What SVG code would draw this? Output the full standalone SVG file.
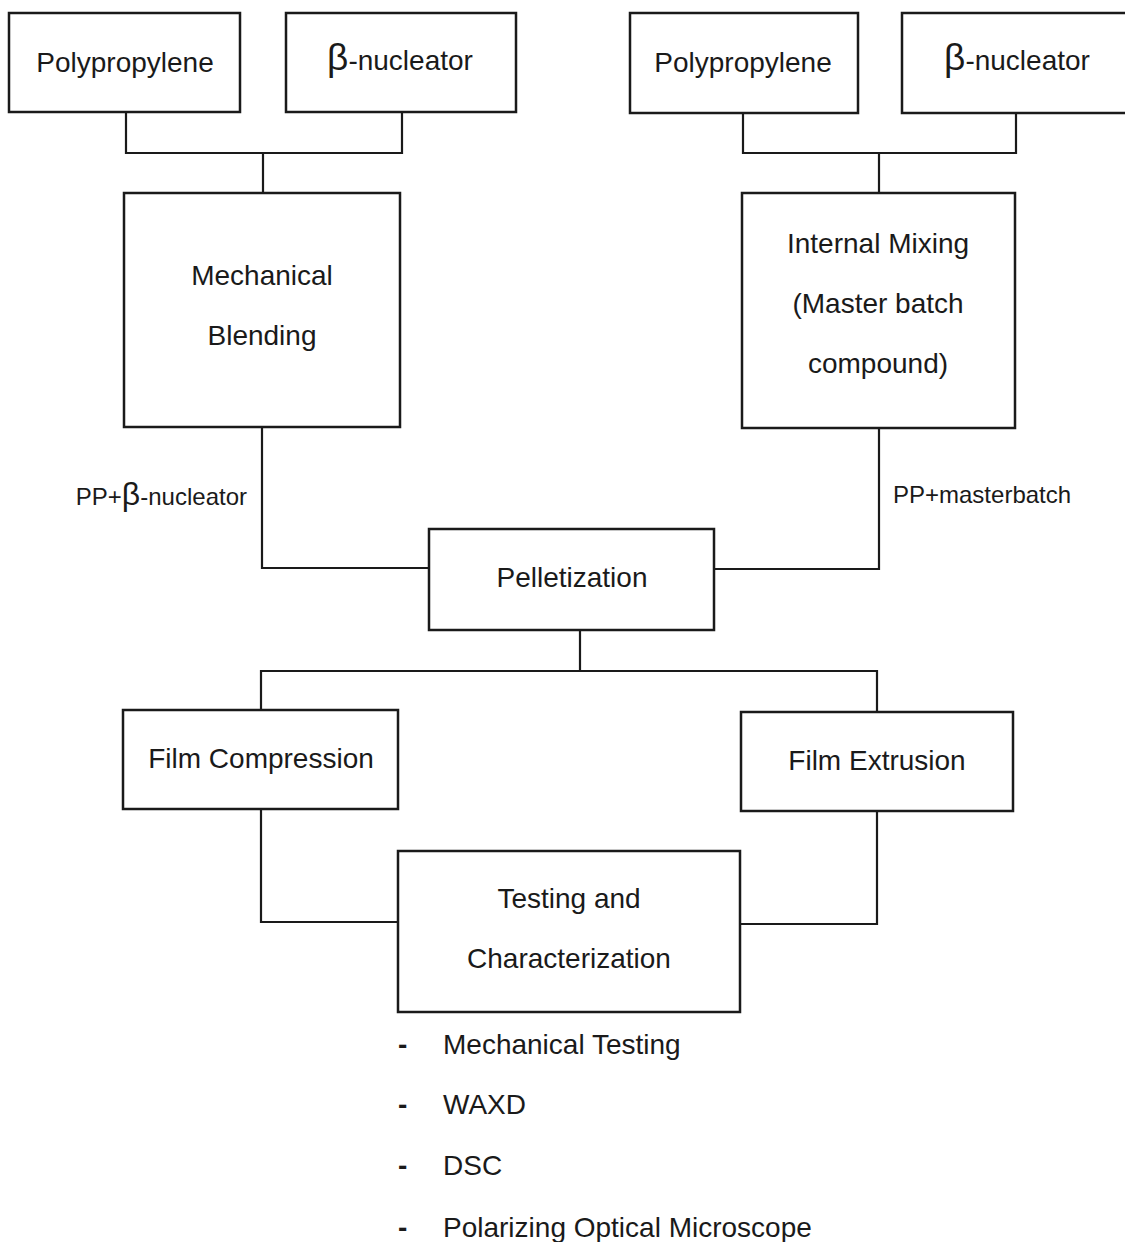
<svg xmlns="http://www.w3.org/2000/svg" width="1125" height="1242" viewBox="0 0 1125 1242">
<style>
.box{fill:#fff;stroke:#1a1a1a;stroke-width:2.5}
.ln{fill:none;stroke:#1a1a1a;stroke-width:2.2}
text{font-family:"Liberation Sans",Arial,sans-serif;fill:#1a1a1a;font-size:28px}
.c{text-anchor:middle}
.lbl{font-size:24px}
.beta{font-size:37px}
.betas{font-size:32px}
.dash{font-weight:bold}
</style>
<rect width="1125" height="1242" fill="#fff"/>
<g id="connectors">
<path class="ln" d="M126 112 V153 H402 V112 M263 153 V193"/>
<path class="ln" d="M743 113 V153 H1016 V113 M879 153 V193"/>
<path class="ln" d="M262 427 V568 H429"/>
<path class="ln" d="M879 428 V569 H714"/>
<path class="ln" d="M580 630 V671 M261 711 V671 H877 V712"/>
<path class="ln" d="M261 809 V922 H398"/>
<path class="ln" d="M877 811 V924 H740"/>
</g>
<g id="pp-left"><rect class="box" x="9" y="13" width="231" height="99"/><text class="c" x="125" y="72">Polypropylene</text></g>
<g id="beta-left"><rect class="box" x="286" y="13" width="230" height="99"/><text class="c" x="400" y="70"><tspan class="beta">β</tspan>-nucleator</text></g>
<g id="pp-right"><rect class="box" x="630" y="13" width="228" height="100"/><text class="c" x="743" y="72">Polypropylene</text></g>
<g id="beta-right"><rect class="box" x="902" y="13" width="228" height="100"/><text class="c" x="1017" y="70"><tspan class="beta">β</tspan>-nucleator</text></g>
<g id="mech-blend"><rect class="box" x="124" y="193" width="276" height="234"/><text class="c" x="262" y="285">Mechanical</text><text class="c" x="262" y="345">Blending</text></g>
<g id="internal-mix"><rect class="box" x="742" y="193" width="273" height="235"/><text class="c" x="878" y="253">Internal Mixing</text><text class="c" x="878" y="313">(Master batch</text><text class="c" x="878" y="373">compound)</text></g>
<g id="label-left"><text class="lbl" x="247" y="505" text-anchor="end">PP+<tspan class="betas">β</tspan>-nucleator</text></g>
<g id="label-right"><text class="lbl" x="893" y="503">PP+masterbatch</text></g>
<g id="pelletization"><rect class="box" x="429" y="529" width="285" height="101"/><text class="c" x="572" y="587">Pelletization</text></g>
<g id="film-compression"><rect class="box" x="123" y="710" width="275" height="99"/><text class="c" x="261" y="768">Film Compression</text></g>
<g id="film-extrusion"><rect class="box" x="741" y="712" width="272" height="99"/><text class="c" x="877" y="770">Film Extrusion</text></g>
<g id="testing"><rect class="box" x="398" y="851" width="342" height="161"/><text class="c" x="569" y="908">Testing and</text><text class="c" x="569" y="968">Characterization</text></g>
<g id="test-list">
<text class="dash" x="398" y="1054">-</text><text x="443" y="1054">Mechanical Testing</text>
<text class="dash" x="398" y="1114">-</text><text x="443" y="1114">WAXD</text>
<text class="dash" x="398" y="1175">-</text><text x="443" y="1175">DSC</text>
<text class="dash" x="398" y="1237">-</text><text x="443" y="1237">Polarizing Optical Microscope</text>
</g>
</svg>
